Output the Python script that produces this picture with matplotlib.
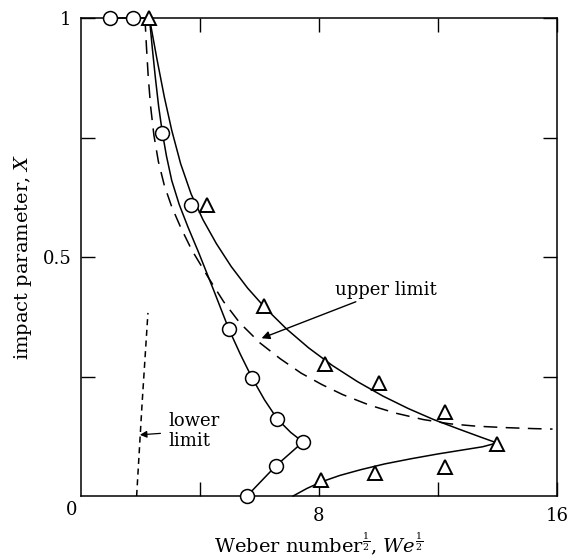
import matplotlib
matplotlib.use('Agg')
import matplotlib.pyplot as plt

# measured points (We^1/2, X)
circle_x = [0.97, 1.74, 2.73, 3.70, 4.97, 5.75, 6.60, 7.46, 6.55, 5.58]
circle_y = [1.0, 1.0, 0.759, 0.609, 0.349, 0.247, 0.161, 0.113, 0.063, 0.0]
tri_x = [2.30, 4.24, 6.15, 8.20, 10.02, 12.24, 13.98, 8.07, 9.88, 12.24]
tri_y = [1.0, 0.609, 0.397, 0.276, 0.236, 0.176, 0.109, 0.033, 0.048, 0.061]

# solid curve through the triangles (upper branch)
upper_x = [2.30, 2.55, 2.80, 3.05, 3.35, 3.70, 4.10, 4.55, 5.05, 5.60, 6.20, 6.90,
           7.65, 8.45, 9.30, 10.15, 11.00, 11.85, 12.70, 13.40, 13.98]
upper_y = [1.000, 0.915, 0.835, 0.765, 0.695, 0.632, 0.578, 0.528, 0.480, 0.435, 0.393,
           0.350, 0.310, 0.273, 0.239, 0.209, 0.183, 0.160, 0.140, 0.124, 0.111]
# solid curve through the triangles (lower branch)
lower_x = [7.13, 7.60, 8.10, 8.70, 9.40, 10.20, 11.10, 12.00, 12.90, 13.50, 13.98]
lower_y = [0.0, 0.016, 0.030, 0.043, 0.055, 0.067, 0.078, 0.088, 0.097, 0.103, 0.111]
# solid curve through the circles
inner_x = [2.30, 2.40, 2.50, 2.61, 2.73, 2.87, 3.05, 3.30, 3.60, 3.95, 4.45, 4.97,
           5.36, 5.75, 6.17, 6.60, 7.05, 7.46, 6.55, 5.58]
inner_y = [1.000, 0.935, 0.875, 0.815, 0.762, 0.712, 0.660, 0.610, 0.562, 0.510, 0.432,
           0.349, 0.296, 0.247, 0.201, 0.161, 0.133, 0.113, 0.063, 0.0]
# dashed upper limit
ulim_x = [2.15, 2.20, 2.26, 2.34, 2.45, 2.60, 2.80, 3.05, 3.35, 3.72, 4.27, 4.80, 5.34,
          6.02, 6.70, 7.40, 8.10, 8.80, 9.70, 10.60, 11.50, 12.40, 13.30, 14.30, 15.20, 15.85]
ulim_y = [1.000, 0.940, 0.877, 0.815, 0.755, 0.700, 0.650, 0.605, 0.562, 0.515, 0.458,
          0.406, 0.362, 0.320, 0.287, 0.257, 0.233, 0.212, 0.190, 0.173, 0.160, 0.151,
          0.146, 0.143, 0.141, 0.140]
# dashed lower limit
llim_x = [1.87, 2.05, 2.25]
llim_y = [0.0, 0.19, 0.383]

plt.rcParams['font.family'] = ['DejaVu Serif']
plt.rcParams['mathtext.fontset'] = 'dejavuserif'

fig = plt.figure(figsize=(5.69, 5.6), dpi=100)
ax = fig.add_axes([81 / 569, 1 - 496 / 560, 476 / 569, 478 / 560])

ax.plot(upper_x, upper_y, color='black', lw=1.1, clip_on=False)
ax.plot(lower_x, lower_y, color='black', lw=1.1, clip_on=False)
ax.plot(inner_x, inner_y, color='black', lw=1.1, clip_on=False)
ax.plot(circle_x[:2] + [2.3], [1, 1, 1], color='black', lw=1.1, clip_on=False)
ax.plot(ulim_x, ulim_y, color='black', lw=1.1, ls=(0, (9, 5.5)), clip_on=False)
ax.plot(llim_x, llim_y, color='black', lw=1.1, ls=(0, (4, 3)))

ax.plot(circle_x, circle_y, 'o', ms=10, mfc='white', mec='black', mew=1.1,
        clip_on=False, zorder=5)
ax.plot(tri_x, tri_y, '^', ms=10, mfc='white', mec='black', mew=1.4,
        clip_on=False, zorder=5)

ax.annotate('upper limit', xy=(6.07, 0.33), xytext=(8.55, 0.431),
            fontsize=13, va='center', ha='left',
            arrowprops=dict(arrowstyle='-|>', color='black', lw=1.0,
                            mutation_scale=12, shrinkA=0, shrinkB=0))
ax.annotate('lower\nlimit', xy=(1.98, 0.128), xytext=(2.95, 0.136),
            fontsize=13, va='center', ha='left', linespacing=1.15,
            arrowprops=dict(arrowstyle='-|>', color='black', lw=0.9,
                            mutation_scale=10, shrinkA=4, shrinkB=0))

ax.set_xlim(0, 16)
ax.set_ylim(0, 1)
ax.set_xticks([4, 8, 12, 16])
ax.set_xticklabels(['', '8', '', '16'])
ax.set_yticks([0.25, 0.5, 0.75, 1.0])
ax.set_yticklabels(['', '0.5', '', '1'])
ax.tick_params(direction='in', length=10, width=1.0, top=True, right=True,
               labelsize=13)
ax.tick_params(axis='x', pad=8)
ax.tick_params(axis='y', pad=7)
ax.text(-0.33, -0.03, '0', fontsize=13, ha='center', va='center',
        transform=ax.transData)
for s in ax.spines.values():
    s.set_linewidth(1.1)

ax.set_xlabel(r'Weber number$^{\frac{1}{2}}$, $We^{\frac{1}{2}}$', fontsize=14, labelpad=4)
ax.set_ylabel(r'impact parameter, $\mathbf{\mathit{X}}$', fontsize=14, labelpad=6)

fig.savefig('out.png', dpi=100)
